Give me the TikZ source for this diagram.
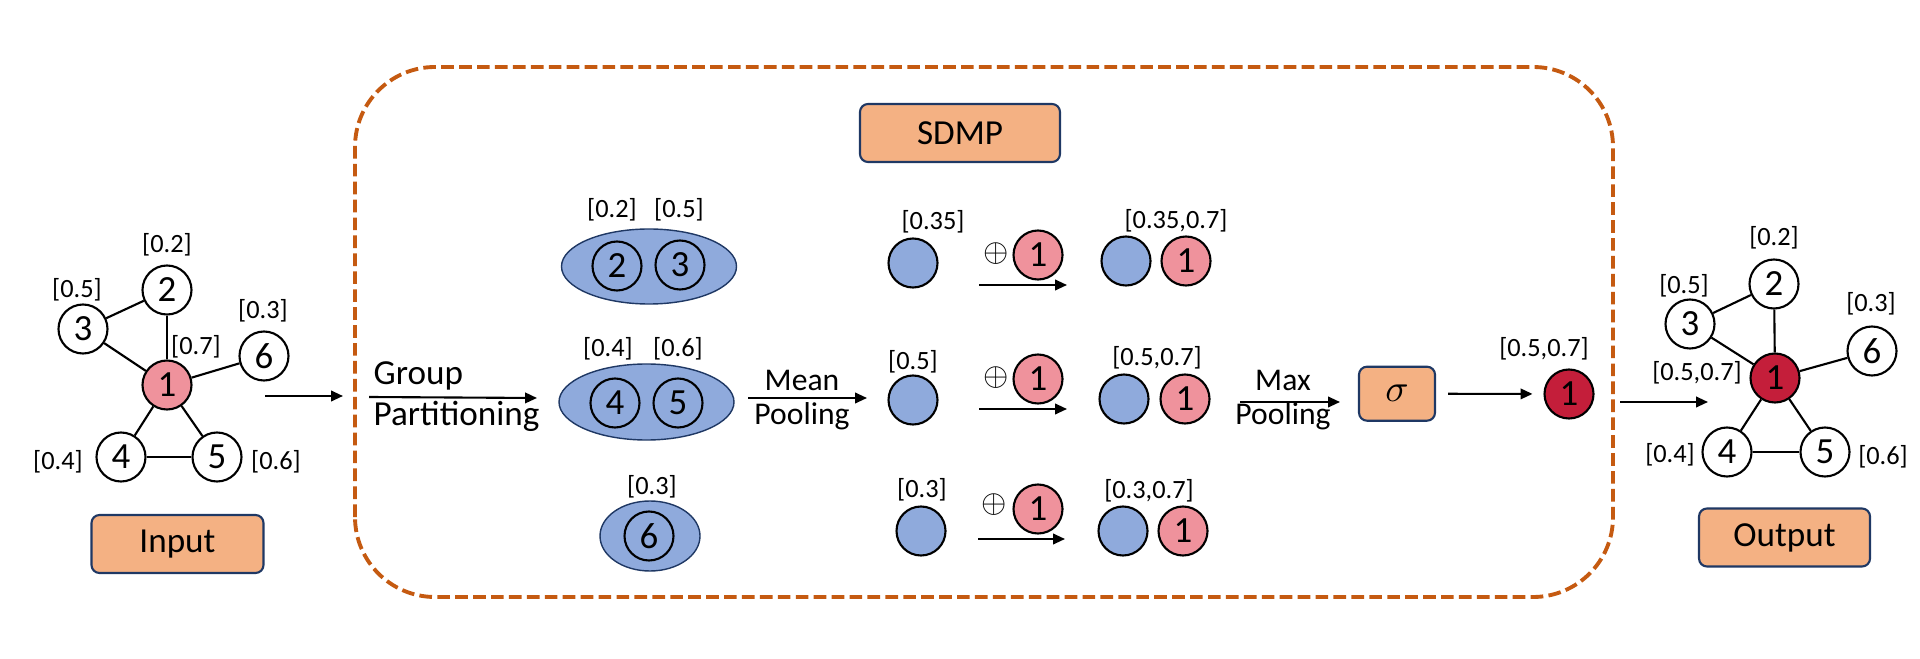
\documentclass[tikz,border=0pt]{standalone}
\usepackage{fontspec}
\setmainfont{Carlito}
\usepackage{tikz}
\usetikzlibrary{arrows.meta, positioning, shapes.geometric}

\definecolor{hubpink}{HTML}{EF929C}
\definecolor{hubred}{HTML}{C41E3A}
\definecolor{poolblue}{HTML}{8FAADC}
\definecolor{tagorange}{HTML}{F4B183}
\definecolor{tagnavy}{HTML}{1F3864}
\definecolor{frameorange}{HTML}{C55A11}

\begin{document}
\begin{tikzpicture}[
    >={Triangle[length=3.4pt, width=3pt]},
    vertex/.style={circle, draw, line width=0.6pt, minimum size=0.49cm, inner sep=0pt, font=\fontsize{10.5}{12}\selectfont},
    hub/.style={vertex, fill=hubpink},
    outhub/.style={vertex, fill=hubred},
    pooled/.style={vertex, fill=poolblue},
    grp/.style={ellipse, draw=tagnavy, line width=0.4pt, fill=poolblue, inner sep=0pt},
    tag/.style={draw=tagnavy, line width=0.6pt, fill=tagorange, rounded corners=0.08cm, inner sep=0pt, font=\fontsize{10}{12}\selectfont},
    lab/.style={inner sep=0pt, font=\fontsize{7.5}{9}\selectfont},
    txt/.style={inner sep=0pt, anchor=base, font=\fontsize{9}{11}\selectfont},
    plus/.style={inner sep=0pt, font=\fontsize{9.5}{11}\selectfont},
    arr/.style={->, line width=0.6pt}
]
\useasboundingbox (0,0) rectangle (19.2,6.58);

% input graph
\node[hub] (in1) at (1.67, 2.73) {1};
\node[vertex] (in2) at (1.67, 3.68) {2};
\node[vertex] (in3) at (0.83, 3.29) {3};
\node[vertex] (in4) at (1.21, 2.01) {4};
\node[vertex] (in5) at (2.17, 2.01) {5};
\node[vertex] (in6) at (2.64, 3.02) {6};
\draw[line width=0.6pt] (in3) -- (in2);
\draw[line width=0.6pt] (in2) -- (in1);
\draw[line width=0.6pt] (in3) -- (in1);
\draw[line width=0.6pt] (in1) -- (in6);
\draw[line width=0.6pt] (in1) -- (in4);
\draw[line width=0.6pt] (in1) -- (in5);
\draw[line width=0.6pt] (in4) -- (in5);
\node[lab] (inl2) at (1.67, 4.13) {[0.2]};
\node[lab] (inl3) at (0.77, 3.68) {[0.5]};
\node[lab] (inl1) at (1.96, 3.11) {[0.7]};
\node[lab] (inl6) at (2.63, 3.47) {[0.3]};
\node[lab] (inl4) at (0.58, 1.96) {[0.4]};
\node[lab] (inl5) at (2.76, 1.96) {[0.6]};
\node[tag, minimum width=1.72cm, minimum height=0.58cm] (input) at (1.775, 1.14) {Input};

\coordinate (ina) at (2.65, 2.62);
\coordinate (inb) at (3.43, 2.62);
\draw[arr] (ina) -- (inb);

% SDMP frame
\draw[frameorange, line width=1.1pt, dash pattern=on 3.6pt off 1.5pt, rounded corners=0.8cm]
    (3.55, 0.61) rectangle (16.13, 5.91);
\node[tag, minimum width=2.0cm, minimum height=0.58cm] (sdmp) at (9.60, 5.25) {SDMP};

% group partitioning
\coordinate (gpa) at (3.69, 2.61);
\coordinate (gpb) at (5.37, 2.60);
\draw[arr] (gpa) -- (gpb);
\node[txt, anchor=base west, font=\fontsize{10}{12}\selectfont] (gp1) at (3.73, 2.74) {Group};
\node[txt, anchor=base west, font=\fontsize{10}{12}\selectfont] (gp2) at (3.73, 2.32) {Partitioning};

\node[grp, minimum width=1.75cm, minimum height=0.75cm] (g23) at (6.49, 3.915) {};
\node[vertex] (p2) at (6.17, 3.92) {2};
\node[vertex] (p3) at (6.80, 3.93) {3};
\node[lab] (pl2) at (6.12, 4.48) {[0.2]};
\node[lab] (pl3) at (6.79, 4.48) {[0.5]};

\node[grp, minimum width=1.75cm, minimum height=0.76cm] (g45) at (6.465, 2.56) {};
\node[vertex] (p4) at (6.15, 2.55) {4};
\node[vertex] (p5) at (6.78, 2.55) {5};
\node[lab] (pl4) at (6.08, 3.09) {[0.4]};
\node[lab] (pl5) at (6.78, 3.09) {[0.6]};

\node[grp, minimum width=1.0cm, minimum height=0.70cm] (g6) at (6.50, 1.22) {};
\node[vertex] (p6) at (6.49, 1.22) {6};
\node[lab] (pl6) at (6.52, 1.71) {[0.3]};

% mean pooling
\coordinate (mpa) at (7.48, 2.60);
\coordinate (mpb) at (8.67, 2.60);
\draw[arr] (mpa) -- (mpb);
\node[txt] (mp1) at (8.02, 2.67) {Mean};
\node[txt] (mp2) at (8.02, 2.33) {Pooling};

\node[pooled] (m1) at (9.13, 3.95) {};
\node[pooled] (m2) at (9.13, 2.58) {};
\node[pooled] (m3) at (9.21, 1.27) {};
\node[lab] (ml1) at (9.33, 4.36) {[0.35]};
\node[lab] (ml2) at (9.13, 2.96) {[0.5]};
\node[lab] (ml3) at (9.22, 1.68) {[0.3]};

% concatenation with node 1
\node[plus] (op1) at (9.96, 4.04) {$\oplus$};
\node[plus] (op2) at (9.96, 2.80) {$\oplus$};
\node[plus] (op3) at (9.94, 1.53) {$\oplus$};
\node[hub] (c1) at (10.38, 4.03) {1};
\node[hub] (c2) at (10.38, 2.79) {1};
\node[hub] (c3) at (10.38, 1.49) {1};
\coordinate (ca1) at (9.79, 3.73);
\coordinate (cb1) at (10.67, 3.73);
\coordinate (ca2) at (9.79, 2.49);
\coordinate (cb2) at (10.67, 2.49);
\coordinate (ca3) at (9.78, 1.19);
\coordinate (cb3) at (10.65, 1.19);
\draw[arr] (ca1) -- (cb1);
\draw[arr] (ca2) -- (cb2);
\draw[arr] (ca3) -- (cb3);

\node[pooled] (r1b) at (11.26, 3.97) {};
\node[hub] (r1a) at (11.86, 3.97) {1};
\node[pooled] (r2b) at (11.24, 2.59) {};
\node[hub] (r2a) at (11.85, 2.59) {1};
\node[pooled] (r3b) at (11.23, 1.27) {};
\node[hub] (r3a) at (11.83, 1.27) {1};
\node[lab] (rl1) at (11.76, 4.37) {[0.35,0.7]};
\node[lab] (rl2) at (11.57, 3.00) {[0.5,0.7]};
\node[lab] (rl3) at (11.49, 1.67) {[0.3,0.7]};

% max pooling
\coordinate (xpa) at (12.40, 2.56);
\coordinate (xpb) at (13.40, 2.56);
\draw[arr] (xpa) -- (xpb);
\node[txt] (xp1) at (12.83, 2.67) {Max};
\node[txt] (xp2) at (12.83, 2.33) {Pooling};

\node[tag, minimum width=0.76cm, minimum height=0.54cm, font=\fontsize{11}{12}\selectfont] (sigma) at (13.97, 2.643) {$\sigma$};
\node[outhub] (o1) at (15.69, 2.64) {1};
\node[lab] (ol) at (15.44, 3.09) {[0.5,0.7]};
\draw[arr, shorten <=0.12cm, shorten >=0.11cm] (sigma) -- (o1);

% output graph
\coordinate (outa) at (16.20, 2.56);
\coordinate (outb) at (17.08, 2.56);
\draw[arr] (outa) -- (outb);

\node[outhub] (out1) at (17.75, 2.80) {1};
\node[vertex] (out2) at (17.74, 3.74) {2};
\node[vertex] (out3) at (16.90, 3.34) {3};
\node[vertex] (out4) at (17.27, 2.06) {4};
\node[vertex] (out5) at (18.25, 2.06) {5};
\node[vertex] (out6) at (18.72, 3.07) {6};
\draw[line width=0.6pt] (out3) -- (out2);
\draw[line width=0.6pt] (out2) -- (out1);
\draw[line width=0.6pt] (out3) -- (out1);
\draw[line width=0.6pt] (out1) -- (out6);
\draw[line width=0.6pt] (out1) -- (out4);
\draw[line width=0.6pt] (out1) -- (out5);
\draw[line width=0.6pt] (out4) -- (out5);
\node[lab] (outl2) at (17.74, 4.20) {[0.2]};
\node[lab] (outl3) at (16.84, 3.72) {[0.5]};
\node[lab] (outl6) at (18.71, 3.54) {[0.3]};
\node[lab] (outl1) at (16.97, 2.85) {[0.5,0.7]};
\node[lab] (outl4) at (16.70, 2.03) {[0.4]};
\node[lab] (outl5) at (18.83, 2.01) {[0.6]};
\node[tag, minimum width=1.71cm, minimum height=0.58cm] (output) at (17.845, 1.205) {Output};
\end{tikzpicture}
\end{document}
